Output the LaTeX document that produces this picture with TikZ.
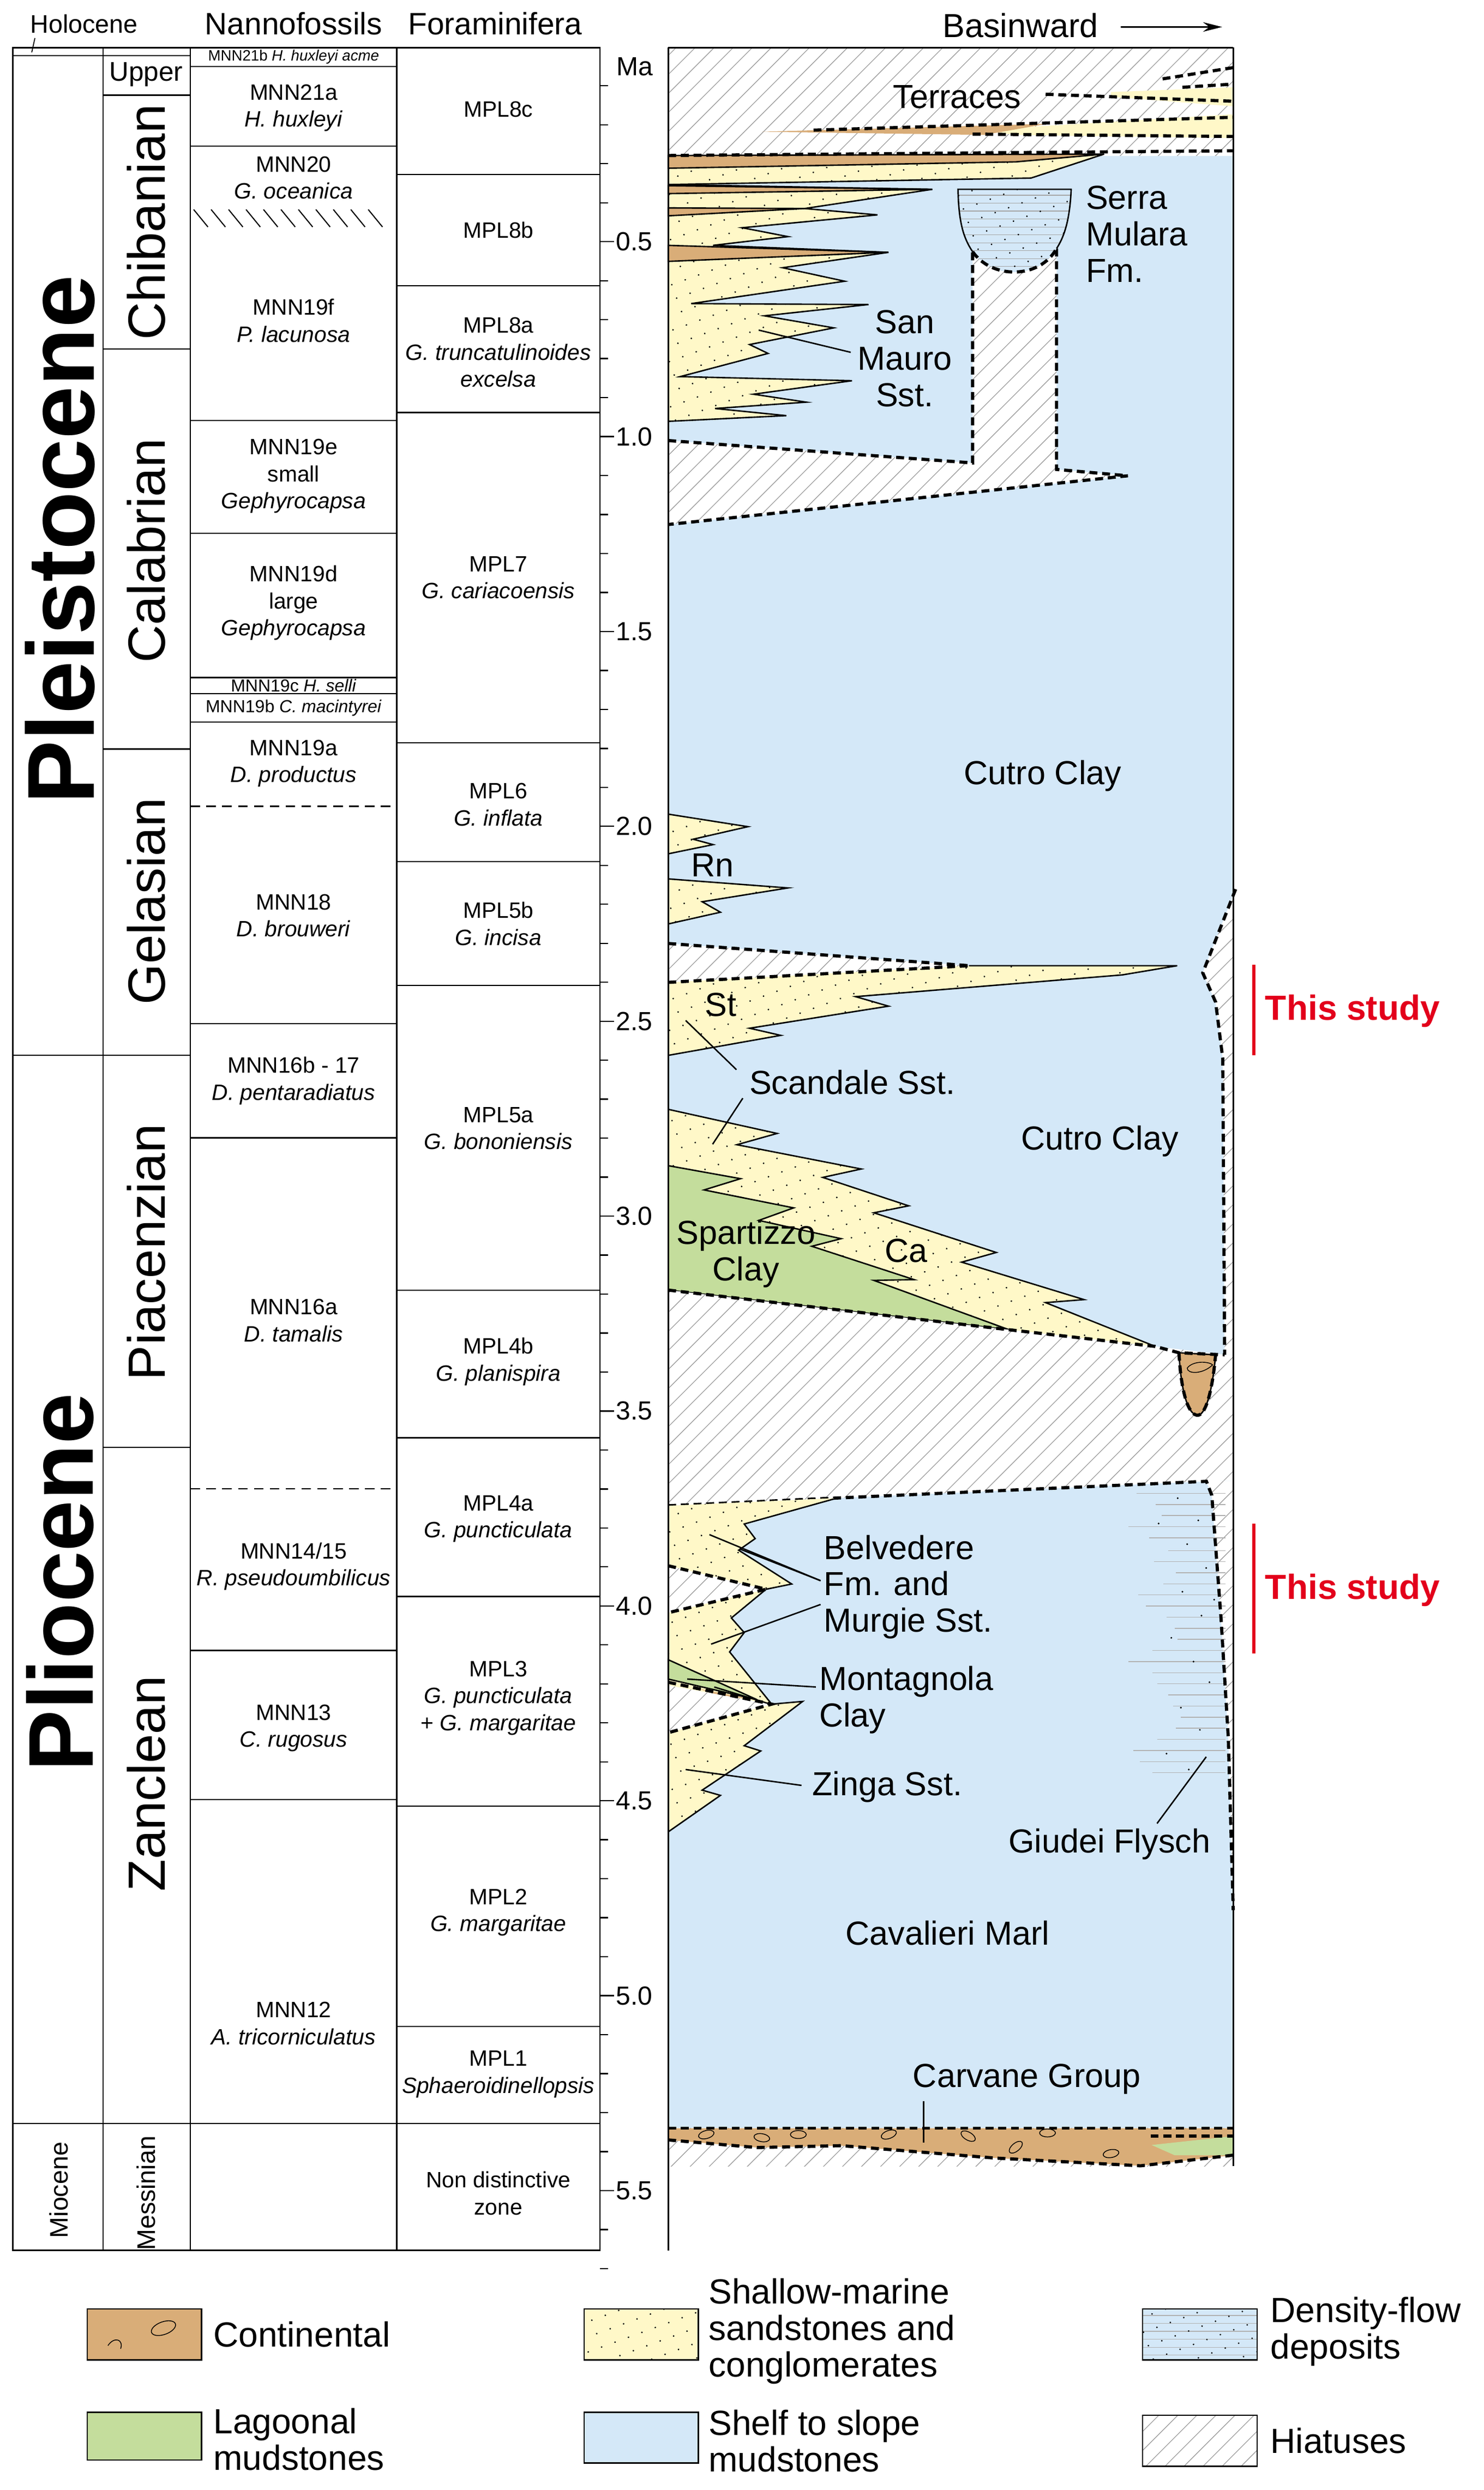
\documentclass[tikz,border=0pt]{standalone}
\usepackage{fontspec}
\setmainfont{Liberation Sans}
\usetikzlibrary{patterns,patterns.meta,arrows.meta}
\definecolor{shelf}{HTML}{D4E8F8}
\definecolor{sand}{HTML}{FFF8C8}
\definecolor{lagoon}{HTML}{C4DD9C}
\definecolor{cont}{HTML}{D9AD78}
\definecolor{studyred}{HTML}{E3001B}
\newcommand\biglab{\fontsize{21}{23}\selectfont}
\newcommand\leglab{\fontsize{22}{23}\selectfont}
\newcommand\tabfont{\fontsize{14}{17}\selectfont}
\newcommand\hatchin[1]{\begin{scope}\clip #1; \fill[white] (400,0) rectangle (800,1420);
  \foreach \c in {-1000,-988,...,790} \draw[gray!75,line width=0.45pt] (\c,1420) -- (\c+1400,20);\end{scope}}
\tikzset{
  sanddots/.style={pattern={Dots[distance=9pt,radius=0.55pt,angle=20]},pattern color=black},
  hiatline/.style={line width=2pt,dash pattern=on 5pt off 3pt},
  cont0/.style={line width=0.9pt},
  tb/.style={font=\tabfont,align=center,inner sep=0pt},
  lbl/.style={font=\biglab,align=center,inner sep=0pt},
  lead/.style={line width=0.9pt},
  legbox/.style={draw,line width=0.8pt},
}
\begin{document}
\begin{tikzpicture}[x=1pt,y=-1pt]
\fill[white] (0,0) rectangle (935,1569);
\useasboundingbox (0,0) rectangle (935,1569);

% ================= RIGHT PANEL =================
\fill[shelf] (421,30) rectangle (777,1341);
\hatchin{(421,30) rectangle (777,98)}
% terraces bands
\fill[sand] (700,58) -- (777,55) -- (777,67) -- (700,61) -- cycle;
\fill[sand] (615,82) -- (777,72) -- (777,87) -- (640,85) -- cycle;
\fill[cont] (480,83) -- (660,78) -- (620,85) -- cycle;
\draw[hiatline] (658.8,59.4) -- (777,63.8);
\draw[hiatline] (732.5,49.7) -- (777,42.6);
\draw[hiatline] (745,55) -- (777,53);
\draw[hiatline] (512.6,82) -- (777,73.9);
\draw[hiatline] (612.8,84.5) -- (777,86);
% San Mauro
\fill[sand] (421,98) -- (695.6,97.1) -- (649.6,112.2) -- (421,116.3) -- cycle;
\fill[sand] (421,116.3) -- (587.4,119.3) -- (506.9,131.4) -- (552.9,135.4) -- (467.7,143.5) -- (496.5,149.1) -- (449.3,154.6) -- (559.8,159.0) -- (493.1,168.7) -- (532.2,177.2) -- (435.5,191.3) -- (547.2,191.9) -- (481.6,199.0) -- (525.3,206.6) -- (472.3,217.1) -- (483.9,222.7) -- (428.6,237.3) -- (536.8,239.9) -- (474.7,248.4) -- (508.0,253.4) -- (450.5,257.4) -- (495.4,261.9) -- (421,265.5) -- cycle;
\fill[sanddots] (421,98) -- (695.6,97.1) -- (649.6,112.2) -- (421,116.3) -- cycle;
\fill[sanddots] (421,116.3) -- (587.4,119.3) -- (506.9,131.4) -- (552.9,135.4) -- (467.7,143.5) -- (496.5,149.1) -- (449.3,154.6) -- (559.8,159.0) -- (493.1,168.7) -- (532.2,177.2) -- (435.5,191.3) -- (547.2,191.9) -- (481.6,199.0) -- (525.3,206.6) -- (472.3,217.1) -- (483.9,222.7) -- (428.6,237.3) -- (536.8,239.9) -- (474.7,248.4) -- (508.0,253.4) -- (450.5,257.4) -- (495.4,261.9) -- (421,265.5) -- cycle;
\filldraw[fill=cont,cont0] (421,98) -- (695.6,97.1) -- (640,102) -- (421,106) -- cycle;
\filldraw[fill=cont,cont0] (421,117) -- (587.4,119.3) -- (421,122) -- cycle;
\filldraw[fill=cont,cont0] (421,131) -- (506.9,131.4) -- (421,136) -- cycle;
\filldraw[fill=cont,cont0] (421,154.6) -- (559.8,159.0) -- (421,164.7) -- cycle;
\draw[cont0] (695.6,97.1) -- (649.6,112.2) -- (421,116.3);
\draw[cont0] (421,116.3) -- (587.4,119.3) -- (506.9,131.4) -- (552.9,135.4) -- (467.7,143.5) -- (496.5,149.1) -- (449.3,154.6) -- (559.8,159.0) -- (493.1,168.7) -- (532.2,177.2) -- (435.5,191.3) -- (547.2,191.9) -- (481.6,199.0) -- (525.3,206.6) -- (472.3,217.1) -- (483.9,222.7) -- (428.6,237.3) -- (536.8,239.9) -- (474.7,248.4) -- (508.0,253.4) -- (450.5,257.4) -- (495.4,261.9) -- (421,265.5);
\draw[hiatline] (421,98) -- (777,95);
% hiatus under San Mauro with column
\hatchin{(421,277.6) -- (612.8,291.7) -- (612.8,158.6) .. controls (625,176) and (655,176) .. (665.7,156.6) -- (665.7,295.8) -- (710.6,299.8) -- (421,330.5) -- cycle}
\draw[hiatline] (421,277.6) -- (612.8,291.7) -- (612.8,158.6);
\draw[hiatline] (665.7,156.6) -- (665.7,295.8) -- (710.6,299.8) -- (421,330.5);
% Serra Mulara bowl
\begin{scope}
\clip (603.6,119.3) -- (674.9,119.3) .. controls (674,140) and (670,150) .. (665.7,156.6) .. controls (655,176) and (625,176) .. (612.8,158.6) .. controls (607,150) and (604,140) .. cycle;
\fill[shelf] (600,115) rectangle (680,180);
\foreach \yy in {123,128,...,175} \draw[gray!70,line width=0.4pt] (600,\yy) -- (680,\yy);
\fill[sanddots] (600,115) rectangle (680,180);
\end{scope}
\draw[cont0] (612.8,158.6) .. controls (607,150) and (604,140) .. (603.6,119.3) -- (674.9,119.3) .. controls (674,140) and (670,150) .. (665.7,156.6);
\draw[hiatline] (612.8,158.6) .. controls (625,176) and (655,176) .. (665.7,156.6);
% Rn
\filldraw[fill=sand,cont0] (421,513) -- (471.2,520.9) -- (436.7,528.8) -- (449.3,532.2) -- (421,538);
\filldraw[fill=sand,cont0] (421,553.8) -- (496.5,559.5) -- (442.4,568.2) -- (453.9,574.8) -- (421,582.2);
\fill[sanddots] (421,513) -- (471.2,520.9) -- (436.7,528.8) -- (449.3,532.2) -- (421,538) -- cycle;
\fill[sanddots] (421,553.8) -- (496.5,559.5) -- (442.4,568.2) -- (453.9,574.8) -- (421,582.2) -- cycle;
% St hiatus and wedge
\hatchin{(421,594.5) -- (610.5,608.5) -- (421,619) -- cycle}
\fill[sand] (421,619) -- (610.5,608.5) -- (741.7,608.5) -- (707.1,614.3) -- (539.1,628) -- (559.8,634) -- (472.3,647.9) -- (491.9,652.4) -- (421,665) -- cycle;
\fill[sanddots] (421,619) -- (610.5,608.5) -- (741.7,608.5) -- (707.1,614.3) -- (539.1,628) -- (559.8,634) -- (472.3,647.9) -- (491.9,652.4) -- (421,665) -- cycle;
\draw[cont0] (610.5,608.5) -- (741.7,608.5) -- (707.1,614.3) -- (539.1,628) -- (559.8,634) -- (472.3,647.9) -- (491.9,652.4) -- (421,665);
\draw[hiatline] (421,594.5) -- (610.5,608.5);
\draw[hiatline] (421,619) -- (610.5,608.5);
% right hiatus strip
\hatchin{(778.5,560.3) -- (757.8,613) -- (765.9,631.4) -- (770.4,666.9) -- (771.6,853.7) -- (777,853.7) -- (777,560) -- cycle}
% Scandale / Ca
\fill[sand] (421,699) -- (489.6,714.2) -- (464.3,721.3) -- (542.6,736.6) -- (518.4,741.9) -- (572.5,759.8) -- (550.6,764.2) -- (627.7,789.2) -- (605.9,795.3) -- (683,818.9) -- (658.8,820.8) -- (727.9,848.4) -- (635.8,837.9) -- (421,812.9) -- cycle;
\fill[sanddots] (421,699) -- (489.6,714.2) -- (464.3,721.3) -- (542.6,736.6) -- (518.4,741.9) -- (572.5,759.8) -- (550.6,764.2) -- (627.7,789.2) -- (605.9,795.3) -- (683,818.9) -- (658.8,820.8) -- (727.9,848.4) -- (635.8,837.9) -- (421,812.9) -- cycle;
\draw[cont0] (421,699) -- (489.6,714.2) -- (464.3,721.3) -- (542.6,736.6) -- (518.4,741.9) -- (572.5,759.8) -- (550.6,764.2) -- (627.7,789.2) -- (605.9,795.3) -- (683,818.9) -- (658.8,820.8) -- (727.9,848.4);
\filldraw[fill=lagoon,cont0] (421,734.5) -- (466.6,742.7) -- (443.6,749.8) -- (500,761.1) -- (478.1,769) -- (529.9,780.5) -- (511.5,785.3) -- (575.9,806.3) -- (550.6,806.8) -- (635.8,837.9) -- (421,812.9);
% middle hiatus
\hatchin{(421,812.9) -- (635.8,837.9) -- (727.9,848.4) -- (771.6,853.7) -- (777,853.7) -- (777,933) -- (760.1,933.4) -- (527.6,943.9) -- (421,948.8) -- cycle}
\filldraw[fill=cont,cont0] (742.8,852.4) -- (765.9,853.7) .. controls (764,875) and (760,892) .. (754.3,891.8) .. controls (748,891) and (744,875) .. cycle;
\draw[line width=0.5pt] (748,862) .. controls (752,857) and (762,858) .. (764,860) .. controls (758,866) and (748,866) .. (748,862);
\draw[hiatline] (421,812.9) -- (635.8,837.9) -- (727.9,848.4) -- (742.8,852.4) -- (771.6,853.7);
\draw[hiatline] (742.8,852.4) .. controls (744,875) and (748,891) .. (754.3,891.8) .. controls (760,892) and (764,875) .. (765.9,853.7);
\draw[hiatline] (778.5,560.3) -- (757.8,613) -- (765.9,631.4) -- (770.4,666.9) -- (771.6,853.7);
% Giudei flysch hiatus strip
\hatchin{(760.1,933.4) -- (763.5,942.2) -- (769.3,1019.5) -- (773.9,1095.1) -- (777,1203.6) -- (777,933) -- cycle}
% flysch lines
\foreach \yy/\xa in {941/716,948/728,955/732,962/711,969/724,977/736,984/727,991/741,998/733,1005/717,1012/722,1019/735,1026/740,1033/742,1040/726,1047/711,1054/726,1061/729,1068/736,1075/739,1082/744,1089/741,1096/729,1103/714,1110/718,1117/726}
  \draw[gray!60,line width=0.5pt] (\xa,\yy) -- (772,\yy);
\foreach \px/\py in {742/944, 755/958, 748/973, 760/988, 745/1003, 757/1018, 738/1032, 752/1047, 762/1060, 744/1076, 756/1090, 735/1105, 749/1115, 765/1008, 730/960}
  \fill (\px,\py) circle (0.6pt);
\draw[hiatline] (421,948.8) -- (527.6,943.9) -- (760.1,933.4) -- (763.5,942.2) -- (769.3,1019.5) -- (773.9,1095.1) -- (777,1203.6);
% Belvedere / Zinga
\fill[sand] (421,948.8) -- (527.6,943.9) -- (468.9,960.3) -- (475.8,969.5) -- (465.4,976.8) -- (498.8,998.1) -- (482.7,1001.4) -- (460.8,1019.5) -- (468.9,1028.7) -- (459.7,1040.9) -- (486.2,1073.8) -- (505.7,1072.1) -- (468.9,1100) -- (479.3,1103.3) -- (442.4,1128) -- (453.9,1131.3) -- (421,1154.3) -- cycle;
\fill[sanddots] (421,948.8) -- (527.6,943.9) -- (468.9,960.3) -- (475.8,969.5) -- (465.4,976.8) -- (498.8,998.1) -- (482.7,1001.4) -- (460.8,1019.5) -- (468.9,1028.7) -- (459.7,1040.9) -- (486.2,1073.8) -- (505.7,1072.1) -- (468.9,1100) -- (479.3,1103.3) -- (442.4,1128) -- (453.9,1131.3) -- (421,1154.3) -- cycle;
\draw[cont0] (527.6,943.9) -- (468.9,960.3) -- (475.8,969.5) -- (465.4,976.8) -- (498.8,998.1) -- (482.7,1001.4) -- (460.8,1019.5) -- (468.9,1028.7) -- (459.7,1040.9) -- (486.2,1073.8) -- (505.7,1072.1) -- (468.9,1100) -- (479.3,1103.3) -- (442.4,1128) -- (453.9,1131.3) -- (421,1154.3);
\hatchin{(421,986.6) -- (482.7,1001.4) -- (421,1016.2) -- cycle}
\draw[hiatline] (421,986.6) -- (482.7,1001.4) -- (421,1016.2);
\filldraw[fill=lagoon,cont0] (421,1045.8) -- (477,1071) -- (421,1058) -- cycle;
\fill[cont] (440,1064) -- (475,1071) -- (452,1068) -- cycle;
\hatchin{(421,1062) -- (486.2,1073.8) -- (421,1091.8) -- cycle}
\draw[hiatline] (421,1060) -- (486.2,1073.8) -- (421,1091.8);
% bottom: Carvane
\hatchin{(421,1341) rectangle (777,1365)}
\filldraw[fill=cont,draw=none] (421,1341) -- (777,1341) -- (777,1358) -- (718.6,1364.7) -- (626.6,1359.8) -- (530,1352) -- (477,1353.2) -- (421,1348.4) -- cycle;
\fill[lagoon] (725.6,1351.6) -- (777,1346) -- (777,1358) -- (740,1358) -- cycle;
\foreach \ex/\ey/\ea in {445/1345/15, 480/1347/-10, 503/1345/0, 560/1345/20, 610/1346/-30, 640/1353/40, 660/1344/0, 700/1357/10}
  \draw[line width=0.5pt,rotate around={\ea:(\ex,\ey)}] (\ex,\ey) ellipse (5pt and 2.5pt);
\draw[hiatline] (421,1341) -- (777,1341);
\draw[hiatline] (421,1348.4) -- (477,1353.2) -- (530,1352) -- (626.6,1359.8) -- (718.6,1364.7) -- (777,1358);
\draw[hiatline] (725,1346) -- (777,1346);
% panel frame
\draw[line width=1pt] (421,30) -- (777,30);
\draw[line width=1pt] (421,30) -- (421,1418);
\draw[line width=1pt] (777,30) -- (777,1365);

% labels in panel
\node[lbl] (terr) at (603,61) {Terraces};
\node[lbl,align=left,anchor=north west] (serra) at (684,117) {Serra\\Mulara\\Fm.};
\node[lbl] (smauro) at (570,226) {San\\Mauro\\Sst.};
\coordinate (smp) at (478,208);
\draw[lead] (smp) -- (536,222);
\node[lbl] (cutro1) at (657,489) {Cutro Clay};
\node[lbl] (rn) at (449,545) {Rn};
\node[lbl] (st) at (454,633) {St};
\node[lbl] (scand) at (537,682) {Scandale Sst.};
\coordinate (stp) at (432,643);
\coordinate (scp) at (449,721);
\draw[lead] (stp) -- (464,674);
\draw[lead] (468,692) -- (scp);
\node[lbl] (cutro2) at (693,719) {Cutro Clay};
\node[lbl] (spart) at (470,790) {Spartizzo\\Clay};
\node[lbl] (ca) at (571,788) {Ca};
\node[lbl,align=left,anchor=west] (belv) at (519,1000) {Belvedere\\Fm. and\\Murgie Sst.};
\coordinate (bp1) at (447,967);
\coordinate (bp2) at (448,1036);
\draw[lead] (bp1) -- (517,996);
\draw[lead] (466,976) -- (517,996);
\draw[lead] (bp2) -- (517,1011);
\node[lbl,align=left,anchor=west] (mont) at (516,1071) {Montagnola\\Clay};
\coordinate (mp) at (433,1058);
\draw[lead] (mp) -- (514,1063);
\draw[lead] (450,1063) -- (486,1074);
\node[lbl] (zinga) at (559,1126) {Zinga Sst.};
\coordinate (zp) at (432,1115);
\draw[lead] (zp) -- (505,1125);
\node[lbl] (giud) at (699,1162) {Giudei Flysch};
\coordinate (gp) at (760,1107);
\draw[lead] (729,1149) -- (gp);
\node[lbl] (cav) at (597,1218) {Cavalieri Marl};
\node[lbl] (carv) at (647,1310) {Carvane Group};
\coordinate (cgp) at (582,1350);
\draw[lead] (582,1324) -- (cgp);

% this study
\draw[studyred,line width=2pt] (790,608) -- (790,665);
\draw[studyred,line width=2pt] (790,960) -- (790,1042);
\node[font=\fontsize{22}{23}\selectfont\bfseries,text=studyred,anchor=west,inner sep=0pt] (ts1) at (797,637) {This study};
\node[font=\fontsize{22}{23}\selectfont\bfseries,text=studyred,anchor=west,inner sep=0pt] (ts2) at (797,1002) {This study};

% basinward
\node[font=\fontsize{21}{23}\selectfont] (basin) at (643,16) {Basinward};
\coordinate (ba) at (770,17);
\draw[line width=1.2pt,-{Stealth[length=12pt,width=6pt]}] (706,17) -- (ba);

% ================= LEFT TABLE =================
\draw[line width=1pt] (8,30) rectangle (378,1418);
\draw[line width=0.8pt] (65,30) -- (65,1418);
\draw[line width=0.8pt] (120,30) -- (120,1418);
\draw[line width=0.8pt] (250,30) -- (250,1418);
\draw[line width=0.8pt] (8,35) -- (120,35);
\draw[line width=0.8pt] (8,665) -- (65,665);
\draw[line width=0.8pt] (8,1338) -- (120,1338);
\foreach \yy in {60,220,472,665,912} \draw[line width=0.8pt] (65,\yy) -- (120,\yy);
\foreach \yy in {42,92,265,336,427,437,455,645,717,1040,1134,1338} \draw[line width=0.8pt] (120,\yy) -- (250,\yy);
\draw[line width=0.8pt,dash pattern=on 6pt off 4pt] (120,508) -- (250,508);
\draw[line width=0.8pt,dash pattern=on 6pt off 4pt] (120,938) -- (250,938);
\foreach \xx in {122,133,...,240} \draw[line width=0.7pt] (\xx,132) -- (\xx+9,143);
\foreach \yy in {110,180,260,468,543,621,813,906,1006,1138,1277,1338} \draw[line width=0.8pt] (250,\yy) -- (378,\yy);

% headers
\node[font=\fontsize{16}{17}\selectfont] (holo) at (53,15) {Holocene};
\draw[line width=0.6pt] (22,24) -- (20,33);
\node[font=\fontsize{19.5}{21}\selectfont] (hn) at (185,15) {Nannofossils};
\node[font=\fontsize{19.5}{21}\selectfont] (hf) at (312,15) {Foraminifera};

% epochs and stages
\node[font=\fontsize{60}{60}\selectfont\bfseries,rotate=90] (plei) at (38,340) {Pleistocene};
\node[font=\fontsize{58}{58}\selectfont\bfseries,rotate=90] (plio) at (38,997) {Pliocene};
\node[font=\fontsize{16}{17}\selectfont,rotate=90] (mio) at (37,1380) {Miocene};
\node[font=\fontsize{17}{18}\selectfont] (upper) at (92,47) {Upper};
\foreach \nm/\yy in {Chibanian/140,Calabrian/347,Gelasian/568,Piacenzian/789,Zanclean/1124}
  \node[font=\fontsize{33}{34}\selectfont,rotate=90] (st\nm) at (92,\yy) {\nm};
\node[font=\fontsize{16}{17}\selectfont,rotate=90] (mess) at (92,1382) {Messinian};

% nannofossils
\node[tb,font=\fontsize{9.5}{11}\selectfont] (n21b) at (185,36) {MNN21b \textit{H. huxleyi acme}};
\node[tb] (n21a) at (185,68) {MNN21a\\\textit{H. huxleyi}};
\node[tb] (n20) at (185,112) {MNN20\\\textit{G. oceanica}};
\node[tb] (n19f) at (185,202) {MNN19f\\\textit{P. lacunosa}};
\node[tb] (n19e) at (185,300) {MNN19e\\small\\\textit{Gephyrocapsa}};
\node[tb] (n19d) at (185,380) {MNN19d\\large\\\textit{Gephyrocapsa}};
\node[tb,font=\fontsize{11}{12}\selectfont] (n19c) at (185,432) {MNN19c \textit{H. selli}};
\node[tb,font=\fontsize{11}{12}\selectfont] (n19b) at (185,446) {MNN19b \textit{C. macintyrei}};
\node[tb] (n19a) at (185,481) {MNN19a\\\textit{D. productus}};
\node[tb] (n18) at (185,577) {MNN18\\\textit{D. brouweri}};
\node[tb] (n16b) at (185,681) {MNN16b - 17\\\textit{D. pentaradiatus}};
\node[tb] (n16a) at (185,832) {MNN16a\\\textit{D. tamalis}};
\node[tb] (n14) at (185,987) {MNN14/15\\\textit{R. pseudoumbilicus}};
\node[tb] (n13) at (185,1089) {MNN13\\\textit{C. rugosus}};
\node[tb] (n12) at (185,1275) {MNN12\\\textit{A. tricorniculatus}};

% forams
\node[tb] (f8c) at (314,69) {MPL8c};
\node[tb] (f8b) at (314,145) {MPL8b};
\node[tb] (f8a) at (314,222) {MPL8a\\\textit{G. truncatulinoides}\\\textit{excelsa}};
\node[tb] (f7) at (314,364) {MPL7\\\textit{G. cariacoensis}};
\node[tb] (f6) at (314,507) {MPL6\\\textit{G. inflata}};
\node[tb] (f5b) at (314,582) {MPL5b\\\textit{G. incisa}};
\node[tb] (f5a) at (314,711) {MPL5a\\\textit{G. bononiensis}};
\node[tb] (f4b) at (314,858) {MPL4b\\\textit{G. planispira}};
\node[tb] (f4a) at (314,957) {MPL4a\\\textit{G. puncticulata}};
\node[tb] (f3) at (314,1070) {MPL3\\\textit{G. puncticulata}\\+ \textit{G. margaritae}};
\node[tb] (f2) at (314,1205) {MPL2\\\textit{G. margaritae}};
\node[tb] (f1) at (314,1307) {MPL1\\\textit{Sphaeroidinellopsis}};
\node[tb] (fnd) at (314,1382) {Non distinctive\\zone};

% age axis
\foreach \i in {1,...,57} \draw[line width=0.8pt] (378,{29.5+24.56*\i}) -- ++(5,0);
\foreach \m in {0.5,1.0,1.5,2.0,2.5,3.0,3.5,4.0,4.5,5.0,5.5} {
  \draw[line width=0.8pt] (378,{29.5+245.6*\m}) -- ++(9,0);
  \node[font=\fontsize{16.5}{18}\selectfont,anchor=west,inner sep=0pt] at (388,{29.5+245.6*\m}) {\m};
}
\node[font=\fontsize{16.5}{18}\selectfont] (ma) at (400,42) {Ma};

% ================= LEGEND =================
\filldraw[fill=cont,legbox] (55,1455) rectangle (127,1487);
\draw[line width=0.5pt,rotate around={20:(103,1467)}] (103,1467) ellipse (8pt and 4pt);
\draw[line width=0.5pt] (68,1478) .. controls (72,1472) and (78,1474) .. (76,1480);
\node[font=\leglab,anchor=west] (lg1) at (131,1471) {Continental};
\filldraw[fill=lagoon,legbox] (55,1520) rectangle (127,1550);
\node[font=\leglab,anchor=west,align=left] (lg2) at (131,1537) {Lagoonal\\mudstones};
\filldraw[fill=sand,legbox] (368,1455) rectangle (440,1487);
\fill[sanddots] (368,1455) rectangle (440,1487);
\draw[legbox] (368,1455) rectangle (440,1487);
\node[font=\leglab,anchor=west,align=left] (lg3) at (443,1469) {Shallow-marine\\sandstones and\\conglomerates};
\filldraw[fill=shelf,legbox] (368,1520) rectangle (440,1552);
\node[font=\leglab,anchor=west,align=left] (lg4) at (443,1538) {Shelf to slope\\mudstones};
\fill[shelf] (720,1455) rectangle (792,1487);
\foreach \yy in {1459,1464,...,1484} \draw[gray!60,line width=0.4pt] (720,\yy) -- (792,\yy);
\fill[sanddots] (720,1455) rectangle (792,1487);
\draw[legbox] (720,1455) rectangle (792,1487);
\node[font=\leglab,anchor=west,align=left] (lg5) at (797,1469) {Density-flow\\deposits};
\begin{scope}
\clip (720,1522) rectangle (792,1554);
\foreach \c in {680,692,...,800} \draw[gray!75,line width=0.45pt] (\c,1560) -- (\c+50,1510);
\end{scope}
\draw[legbox] (720,1522) rectangle (792,1554);
\node[font=\leglab,anchor=west] (lg6) at (797,1538) {Hiatuses};
\end{tikzpicture}
\end{document}
